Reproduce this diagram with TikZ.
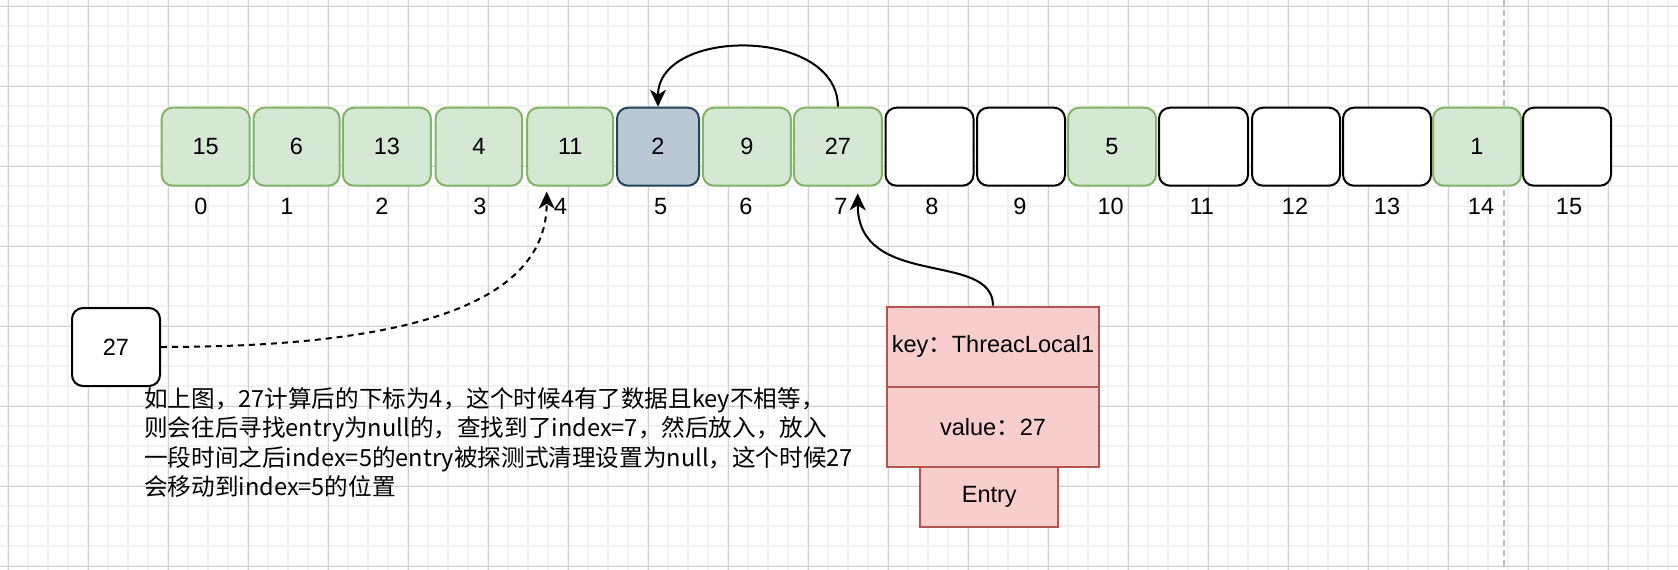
\documentclass[tikz,border=0pt]{standalone}
\usepackage{fontspec}
\setmainfont{Liberation Sans}
\newfontfamily\cjk{Noto Sans CJK SC}
\usetikzlibrary{arrows.meta}
\definecolor{gfill}{HTML}{D5E8D4}
\definecolor{gline}{HTML}{82B366}
\definecolor{bfill}{HTML}{BAC8D3}
\definecolor{bline}{HTML}{23445D}
\definecolor{pfill}{HTML}{F8CECC}
\definecolor{pline}{HTML}{B85450}
\definecolor{minorgrid}{HTML}{F2F2F2}
\definecolor{majorgrid}{HTML}{D0D0D0}
\definecolor{pagebreak}{HTML}{BBBBBB}
\tikzset{
  txt/.style={font=\fontsize{23.5}{28}\selectfont},
  cell/.style={txt, rounded corners=11pt, minimum height=78pt, minimum width=88pt, line width=2pt, inner sep=0pt},
  gcell/.style={cell, draw=gline, fill=gfill},
  bcell/.style={cell, draw=bline, fill=bfill},
  wcell/.style={cell, draw=black, fill=white},
  idx/.style={txt, inner sep=0pt},
  prow/.style={txt, draw=pline, fill=pfill, line width=2pt, inner sep=0pt},
  desc/.style={anchor=north west, align=left, inner sep=0pt, font=\cjk\fontsize{23.6}{29.5}\selectfont},
  conn/.style={line width=2pt, -{Stealth[length=17pt,width=16pt,inset=5pt]}},
  minorline/.style={draw=minorgrid, line width=1.5pt},
  majorline/.style={draw=majorgrid, line width=1pt},
  breakline/.style={draw=pagebreak, line width=2pt, dash pattern=on 6pt off 4pt}
}
\begin{document}
\begin{tikzpicture}[x=1pt,y=-1pt]
\useasboundingbox (0,0) rectangle (1678,570);
\fill[white] (0,0) rectangle (1678,570);
% grid
\foreach \x in {8,28,...,1668} \draw[minorline] (\x,0) -- (\x,570);
\foreach \y in {6,26,...,566} \draw[minorline] (0,\y) -- (1678,\y);
\foreach \x in {8,88,...,1608} \draw[majorline] (\x,0) -- (\x,570);
\foreach \y in {6,86,...,566} \draw[majorline] (0,\y) -- (1678,\y);
\draw[breakline] (1503.5,0) -- (1503.5,570);
% array cells
\node[gcell] (b0) at (205.7,146.7) {15};
\node[gcell, minimum width=86pt] (b1) at (296.5,146.7) {6};
\node[gcell] (b2) at (386.9,146.7) {13};
\node[gcell, minimum width=86.6pt] (b3) at (478.9,146.7) {4};
\node[gcell, minimum width=86pt] (b4) at (570.2,146.7) {11};
\node[bcell, minimum width=82pt] (b5) at (658,146.7) {2};
\node[gcell] (b6) at (746.9,146.7) {9};
\node[gcell] (b7) at (837.9,146.7) {27};
\node[wcell] (b8) at (929.5,146.7) {};
\node[wcell] (b9) at (1021,146.7) {};
\node[gcell] (b10) at (1112,146.7) {5};
\node[wcell, minimum width=89pt] (b11) at (1203.5,146.7) {};
\node[wcell] (b12) at (1296,146.7) {};
\node[wcell] (b13) at (1387,146.7) {};
\node[gcell] (b14) at (1477,146.7) {1};
\node[wcell] (b15) at (1567,146.7) {};
% index labels
\node[idx] (l0) at (201,206.7) {0};
\node[idx] (l1) at (286.8,206.7) {1};
\node[idx] (l2) at (382,206.7) {2};
\node[idx] (l3) at (480,206.7) {3};
\node[idx] (l4) at (560.7,206.7) {4};
\node[idx] (l5) at (660.7,206.7) {5};
\node[idx] (l6) at (746,206.7) {6};
\node[idx] (l7) at (841,206.7) {7};
\node[idx] (l8) at (932,206.7) {8};
\node[idx] (l9) at (1020,206.7) {9};
\node[idx] (l10) at (1110.7,206.7) {10};
\node[idx] (l11) at (1201.8,206.7) {11};
\node[idx] (l12) at (1295,206.7) {12};
\node[idx] (l13) at (1387,206.7) {13};
\node[idx] (l14) at (1481,206.7) {14};
\node[idx] (l15) at (1569,206.7) {15};
% new element
\node[wcell] (b27) at (116,347) {27};
% entry table
\node[prow, minimum width=212pt, minimum height=80pt] (key) at (993,346.7) {key{\cjk：}ThreacLocal1};
\node[prow, minimum width=212pt, minimum height=80pt] (val) at (993,426.7) {value{\cjk：}27};
\node[prow, minimum width=138pt, minimum height=60pt] (entry) at (989.3,496.7) {Entry};
% description
\node[desc] (note) at (144,387) {如上图，27计算后的下标为4，这个时候4有了数据且key不相等，\\则会往后寻找entry为null的，查找到了index=7，然后放入，放入\\一段时间之后index=5的entry被探测式清理设置为null，这个时候27\\会移动到index=5的位置};
% connectors
\coordinate (t4) at (546.7,191.7);
\coordinate (t7) at (857.7,193.3);
\draw[conn] (b7.north) .. controls (837.9,27) and (658,27) .. (b5.north);
\draw[conn, dash pattern=on 6pt off 5pt] (b27.east) .. controls (420,347) and (546.7,300) .. (t4);
\draw[conn] (key.north) .. controls (993,250) and (857.7,290) .. (t7);
\end{tikzpicture}
\end{document}
